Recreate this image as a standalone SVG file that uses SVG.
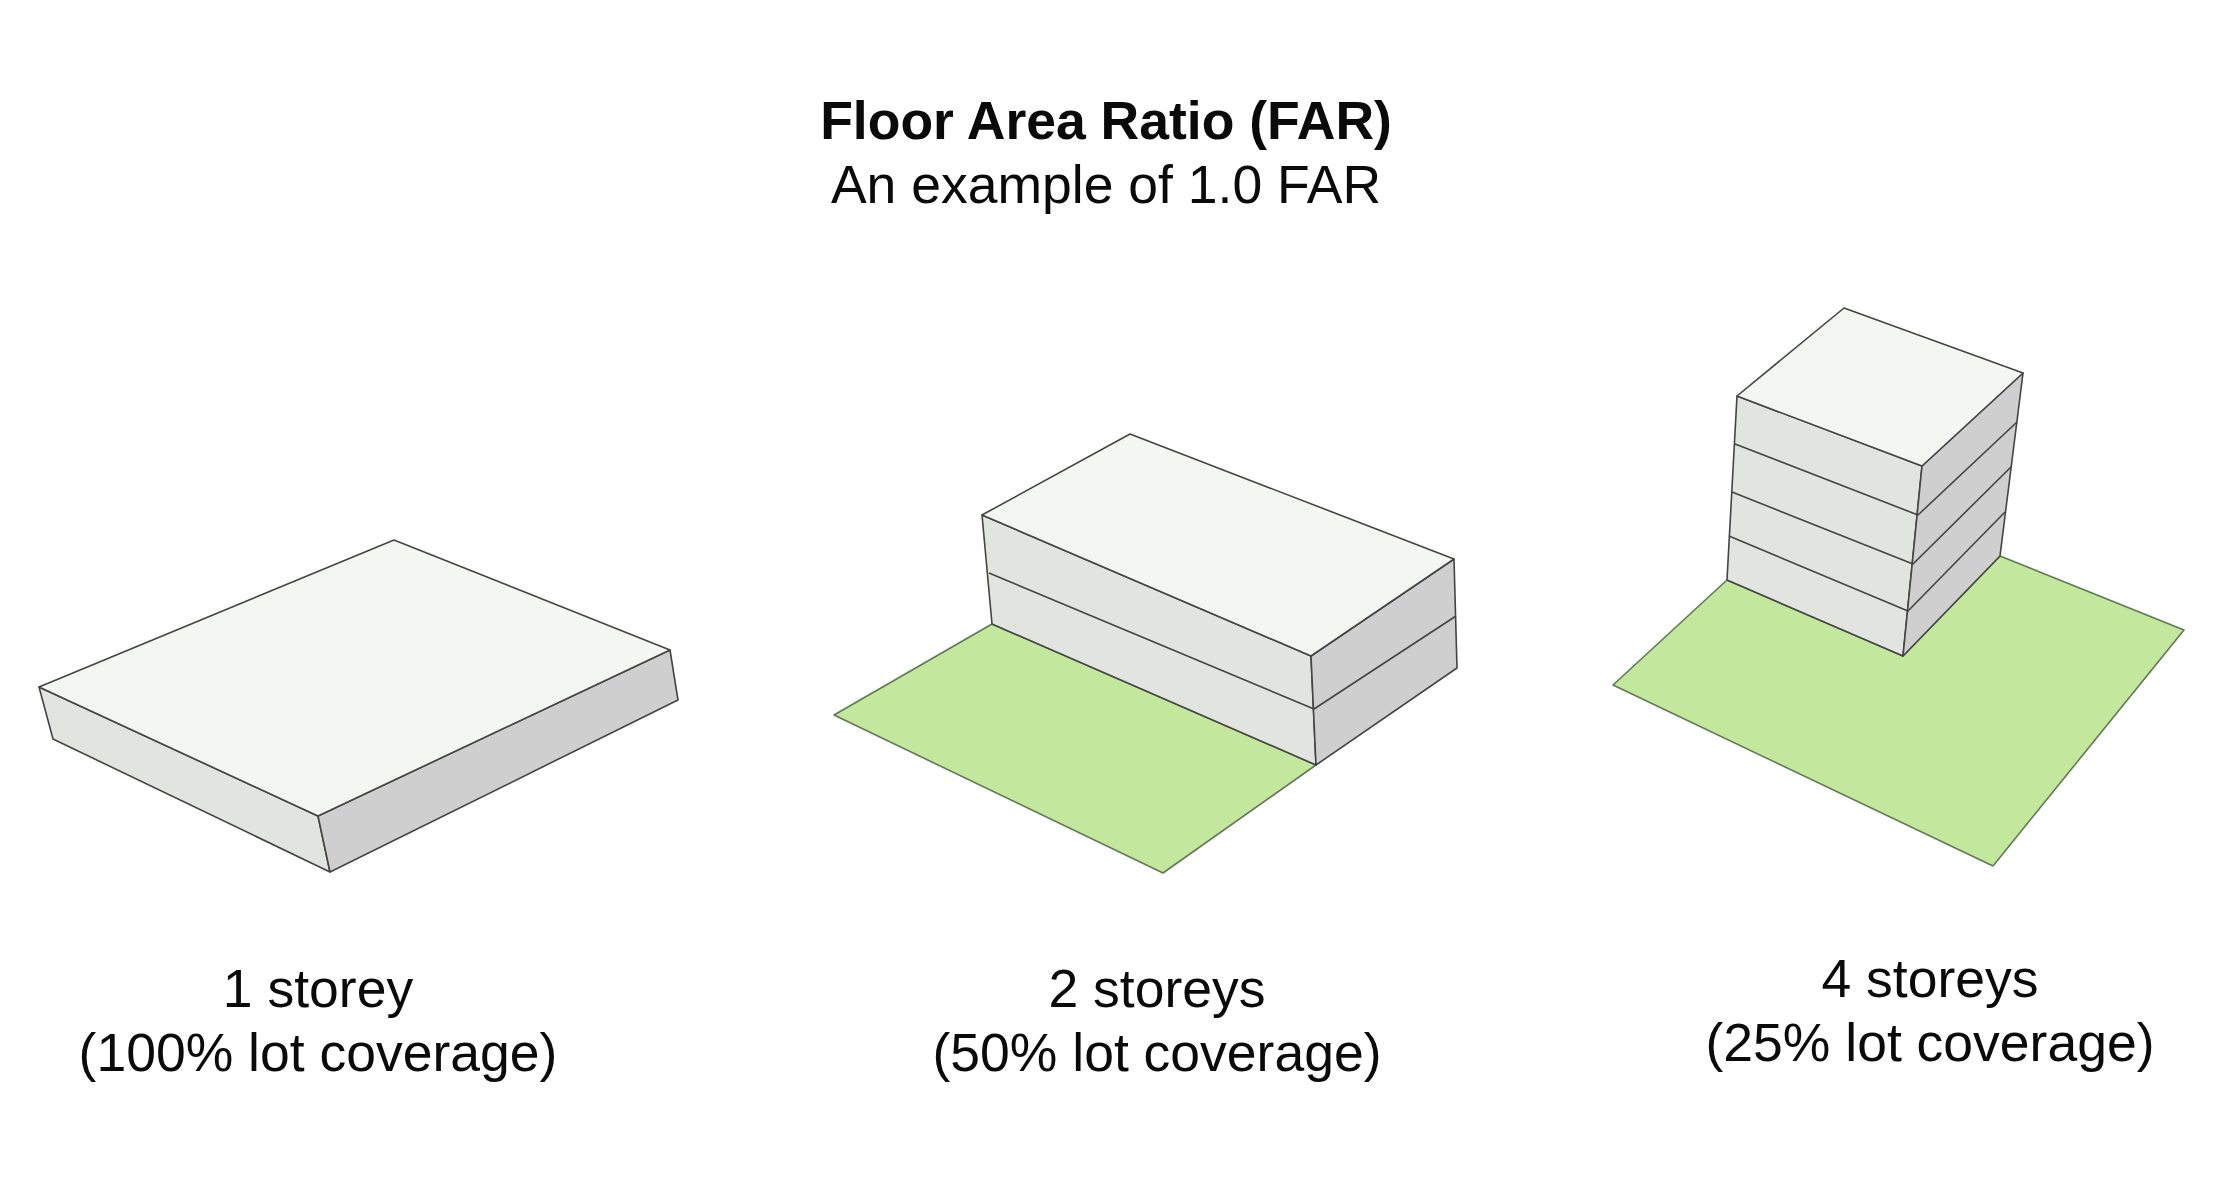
<svg xmlns="http://www.w3.org/2000/svg" width="2229" height="1200" viewBox="0 0 2229 1200">
<style>
text{font-family:"Liberation Sans",Arial,sans-serif;fill:#0a0a0a;text-anchor:middle;font-size:53.5px}
.b{font-weight:700}
.t{fill:#f3f6f1}.l{fill:#e2e4df}.r{fill:#cfcfcf}.g{fill:#c2e79d}
polygon,polyline{stroke:#444;stroke-width:1.6;stroke-linejoin:round}
polyline{fill:none}
.g{stroke:#5f7a55}
</style>
<rect width="2229" height="1200" fill="#fff"/>
<g id="title"><text class="b" x="1106" y="139">Floor Area Ratio (FAR)</text><text x="1106" y="203">An example of 1.0 FAR</text></g>
<g id="building-1">
<polygon class="l" points="39,687 318,816 330,872 53,739"/>
<polygon class="r" points="318,816 670,650 678,700 330,872"/>
<polygon class="t" points="394,540 670,650 318,816 39,687"/>
<text x="318" y="1007">1 storey</text><text x="318" y="1071">(100% lot coverage)</text>
</g>
<g id="building-2">
<polygon class="g" points="834,715 992,624 1316,765 1163,873"/>
<polygon class="l" points="982,515 1311,656 1316,765 992,624"/>
<polygon class="r" points="1311,656 1454,559 1457,668 1316,765"/>
<polygon class="t" points="1130,434 1454,559 1311,656 982,515"/>
<polyline points="989,573 1314,709 1456,616"/>
<text x="1157" y="1007">2 storeys</text><text x="1157" y="1071">(50% lot coverage)</text>
</g>
<g id="building-3">
<polygon class="g" points="1613,685 1727,580 1903,656 2000,556 2184,630 1993,866"/>
<polygon class="l" points="1737,396 1922,466 1903,656 1727,580"/>
<polygon class="r" points="1922,466 2023,373 2000,556 1903,656"/>
<polygon class="t" points="1844,308 2023,373 1922,466 1737,396"/>
<polyline points="1735,444 1918,515 2017,422"/>
<polyline points="1732,492 1913,564 2011,467"/>
<polyline points="1729,536 1908,611 2005,512"/>
<text x="1930" y="997">4 storeys</text><text x="1930" y="1061">(25% lot coverage)</text>
</g>
</svg>
